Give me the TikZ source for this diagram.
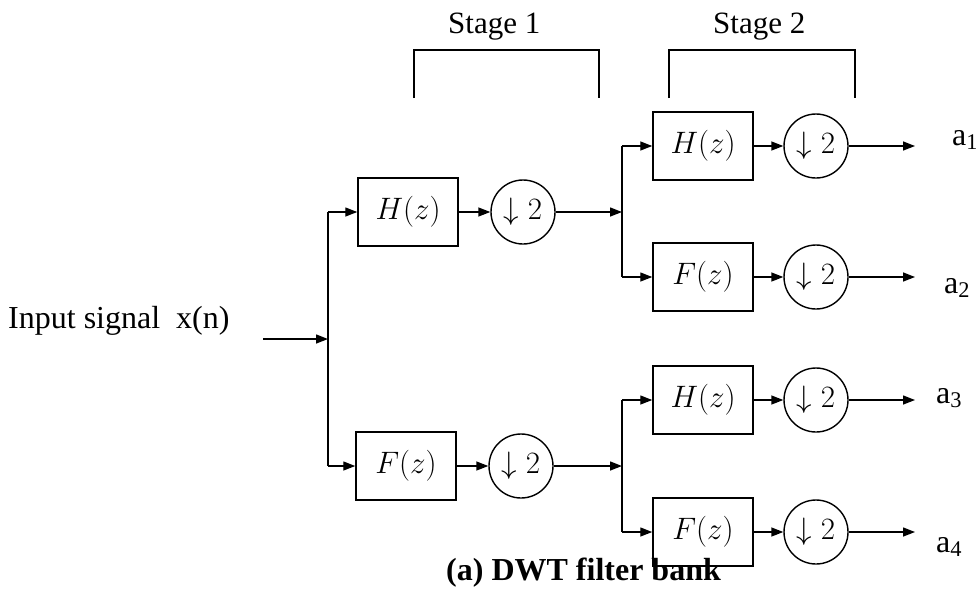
\RequirePackage{fix-cm}
\documentclass[tikz,border=0pt]{standalone}
\usepackage{fontspec}
\setmainfont{Liberation Serif}
\usetikzlibrary{arrows.meta}
\begin{document}
\begin{tikzpicture}[x=1pt,y=-1pt,
  filt/.style={draw,line width=1.5pt,minimum width=100pt,minimum height=68pt,inner sep=0pt,font=\fontsize{31}{37}\selectfont},
  dsamp/.style={draw,circle,line width=1.4pt,minimum size=64pt,inner sep=0pt,font=\fontsize{31}{37}\selectfont},
  sig/.style={line width=1.4pt,-{Triangle[length=12pt,width=9pt]}},
  bus/.style={line width=2.2pt},
  lbl/.style={font=\fontsize{32}{38}\selectfont,inner sep=0pt,anchor=base west},
  brk/.style={line width=1.4pt}]
\useasboundingbox (0,0) rectangle (976,592);

% texts
\node[lbl] (inlbl) at (8,328) {Input signal~~x(n)};
\node[lbl,font=\fontsize{31}{37}\selectfont] (s1) at (448,33) {Stage 1};
\node[lbl,font=\fontsize{31}{37}\selectfont] (s2) at (713,33) {Stage 2};
\node[lbl,font=\fontsize{32}{38}\selectfont\bfseries] (cap) at (446,580) {(a) DWT filter bank};

% stage brackets
\draw[brk] (414,98) -- (414,50) -- (599,50) -- (599,98);
\draw[brk] (669,98) -- (669,50) -- (855,50) -- (855,98);

% stage 1
\node[filt] (h1) at (408,212) {$H(z)$};
\node[dsamp] (d1) at (523,212) {$\downarrow2$};
\node[filt] (f1) at (406,466) {$F(z)$};
\node[dsamp] (e1) at (521,466) {$\downarrow2$};

\coordinate (in) at (263,339);
\coordinate (j0) at (328,339);
\coordinate (j0t) at (328,212);
\coordinate (j0b) at (328,466);
\draw[sig] (in) -- (j0);
\draw[bus] (j0t) -- (j0b);
\draw[sig] (j0t) -- (h1.west);
\draw[sig] (j0b) -- (f1.west);
\draw[sig] (h1) -- (d1);
\draw[sig] (f1) -- (e1);

% stage 2, upper
\node[filt] (h2) at (703,146) {$H(z)$};
\node[dsamp] (d2) at (816,146) {$\downarrow2$};
\node[filt] (f2) at (703,277) {$F(z)$};
\node[dsamp] (e2) at (816,277) {$\downarrow2$};
\coordinate (j1) at (622,212);
\coordinate (j1t) at (622,146);
\coordinate (j1b) at (622,277);
\draw[sig] (d1) -- (j1);
\draw[bus] (j1t) -- (j1b);
\draw[sig] (j1t) -- (h2.west);
\draw[sig] (j1b) -- (f2.west);
\draw[sig] (h2) -- (d2);
\draw[sig] (f2) -- (e2);

% stage 2, lower
\node[filt] (h3) at (703,400) {$H(z)$};
\node[dsamp] (d3) at (816,400) {$\downarrow2$};
\node[filt] (f3) at (703,532) {$F(z)$};
\node[dsamp] (e3) at (816,532) {$\downarrow2$};
\coordinate (j2) at (622,466);
\coordinate (j2t) at (622,400);
\coordinate (j2b) at (622,532);
\draw[sig] (e1) -- (j2);
\draw[bus] (j2t) -- (j2b);
\draw[sig] (j2t) -- (h3.west);
\draw[sig] (j2b) -- (f3.west);
\draw[sig] (h3) -- (d3);
\draw[sig] (f3) -- (e3);

% outputs
\coordinate (o1) at (915,146);
\coordinate (o2) at (915,277);
\coordinate (o3) at (915,400);
\coordinate (o4) at (915,532);
\draw[sig] (d2) -- (o1);
\draw[sig] (e2) -- (o2);
\draw[sig] (d3) -- (o3);
\draw[sig] (e3) -- (o4);
\node[lbl] (a1) at (952,145) {a\textsubscript{1}};
\node[lbl] (a2) at (944,293) {a\textsubscript{2}};
\node[lbl] (a3) at (936,403) {a\textsubscript{3}};
\node[lbl] (a4) at (936,552) {a\textsubscript{4}};
\end{tikzpicture}
\end{document}
